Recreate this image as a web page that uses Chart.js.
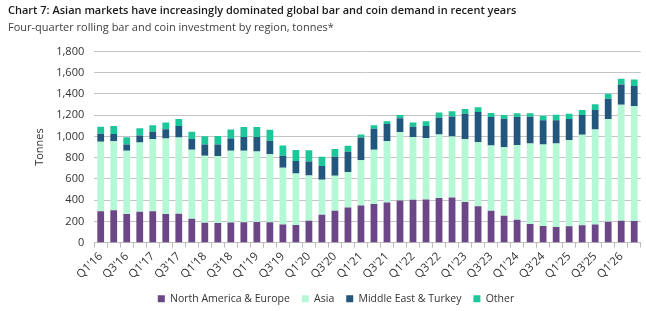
<!DOCTYPE html>
<html>
<head>
<meta charset="utf-8">
<script src="https://cdn.jsdelivr.net/npm/chart.js@4/dist/chart.umd.min.js"></script>
<style>
  html, body { margin: 0; padding: 0; background: #fff; }
  #wrap { width: 646px; height: 311px; }
</style>
</head>
<body>
<div id="wrap"><canvas id="gold"></canvas></div>
<script>
// quarters Q1'16 .. Q2'26
const years = ['16','17','18','19','20','21','22','23','24','25','26'];
const quarters = [];
years.forEach(y => {
    for (let q = 1; q <= 4; q++) quarters.push("Q" + q + "'" + y);
});
quarters.length = 42;

// tonnes, four-quarter rolling
const northAmericaEurope = [295,305,270,292,295,270,272,225,188,185,190,192,195,192,172,166,207,263,300,330,350,365,378,397,404,407,420,426,384,343,301,254,215,177,158,147,155,164,171,196,206,203];
const asia = [655,650,595,650,680,710,718,650,630,630,675,672,663,640,533,485,425,329,330,335,425,510,577,644,590,577,599,574,590,603,613,644,705,756,765,786,810,852,893,967,1091,1084];
const middleEastTurkey = [75,67,60,67,70,88,108,100,107,110,115,130,137,128,112,118,132,130,178,190,214,197,163,131,98,115,156,188,240,284,268,268,262,252,230,220,198,185,185,191,191,188];
const other = [65,75,67,67,60,64,67,70,77,78,85,95,93,102,98,102,105,87,73,58,28,32,25,29,39,44,51,48,44,44,38,35,35,32,42,51,51,48,54,48,54,61];

const yTicks = [0,200,400,600,800,1000,1200,1400,1600,1800];

const fontFam = "'Open Sans', sans-serif";

// legend a bit shorter and nudged right/up
const legendTweak = {
    id: 'legendTweak',
    beforeInit(chart) {
        const lg = chart.legend;
        if (!lg) return;
        const fit = lg.fit;
        lg.fit = function() {
            fit.call(this);
            this.height -= 5;
        };
    },
    afterLayout(chart) {
        const lg = chart.legend;
        if (!lg) return;
        lg.left += 10;
        lg.right += 10;
        lg.top -= 2;
        lg.bottom -= 2;
    }
};

const ctx = document.getElementById('gold').getContext('2d');
const goldChart = new Chart(ctx, {
    type: 'bar',
    data: {
        labels: quarters,
        datasets: [
            { label: 'North America & Europe', data: northAmericaEurope, backgroundColor: '#6c4787' },
            { label: 'Asia', data: asia, backgroundColor: '#b4f8d6' },
            { label: 'Middle East & Turkey', data: middleEastTurkey, backgroundColor: '#23567d' },
            { label: 'Other', data: other, backgroundColor: '#1cc89a' }
        ]
    },
    options: {
        responsive: true,
        maintainAspectRatio: false,
        animation: false,
        datasets: { bar: { categoryPercentage: 1, barPercentage: 0.52 } },
        layout: { padding: { left: 8, right: 2, top: 3, bottom: 0 } },
        plugins: {
            title: {
                display: true,
                text: 'Chart 7: Asian markets have increasingly dominated global bar and coin demand in recent years',
                align: 'start',
                color: '#1a1a1a',
                font: { family: fontFam, size: 11, weight: '600' },
                padding: { top: 1, bottom: 4 }
            },
            subtitle: {
                display: true,
                text: 'Four-quarter rolling bar and coin investment by region, tonnes*',
                align: 'start',
                color: '#404040',
                font: { family: fontFam, size: 11 },
                padding: { bottom: 17 }
            },
            legend: {
                position: 'bottom',
                labels: {
                    boxWidth: 7,
                    boxHeight: 7,
                    padding: 12,
                    color: '#333',
                    font: { family: fontFam, size: 10.5 }
                }
            },
            tooltip: { enabled: false }
        },
        scales: {
            x: {
                stacked: true,
                grid: { display: true, offset: true, drawOnChartArea: false, drawTicks: true, tickLength: 5, color: '#bdbdbd' },
                border: { color: '#bdbdbd' },
                ticks: {
                    autoSkip: false,
                    maxRotation: 45,
                    minRotation: 45,
                    padding: 2,
                    color: '#333',
                    font: { family: fontFam, size: 11.5 },
                    callback: function(v, i) { return i % 2 === 0 ? quarters[i] : ''; }
                }
            },
            y: {
                stacked: true,
                min: 0,
                max: 1800,
                afterBuildTicks: axis => { axis.ticks = yTicks.map(v => ({ value: v })); },
                grid: { color: '#c4c4c4', drawTicks: false },
                border: { display: false },
                title: {
                    display: true,
                    text: 'Tonnes',
                    color: '#333',
                    font: { family: fontFam, size: 11 },
                    padding: { top: 25, bottom: 0 }
                },
                ticks: {
                    padding: 10,
                    color: '#333',
                    font: { family: fontFam, size: 11 },
                    callback: v => v.toLocaleString('en-US')
                }
            }
        }
    },
    plugins: [legendTweak]
});
</script>
</body>
</html>
